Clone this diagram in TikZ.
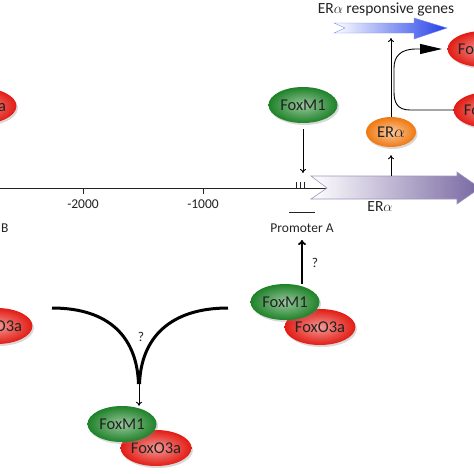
\documentclass[tikz,border=0pt]{standalone}
\usepackage{fontspec}
\setmainfont{Carlito}
\usetikzlibrary{shapes.geometric,shadows,arrows.meta}

\definecolor{foxred}{RGB}{226,28,20}
\definecolor{foxgreen}{RGB}{30,130,40}
\definecolor{erorange}{RGB}{240,120,16}
\definecolor{erpurple}{RGB}{120,104,162}
\definecolor{erblue}{RGB}{36,64,232}
\definecolor{txt}{RGB}{35,35,35}

\tikzset{
  prot/.style={ellipse, inner sep=0pt, minimum width=69pt, minimum height=36pt,
    text=txt, font=\fontsize{16.5}{18}\selectfont,
    drop shadow={shadow xshift=1.5pt, shadow yshift=-2pt, opacity=0.3}},
  foxo/.style={prot, shade, outer color=foxred, inner color=foxred!45!white},
  foxm/.style={prot, shade, outer color=foxgreen, inner color=foxgreen!45!white},
  era/.style={prot, minimum width=50pt, minimum height=30pt,
    shade, outer color=erorange, inner color=erorange!40!white},
  small/.style={text=txt, font=\fontsize{13.5}{15}\selectfont},
  big/.style={text=txt, font=\fontsize{15.5}{17}\selectfont},
  link/.style={-{To[length=4pt,width=6pt]}, line width=0.9pt}
}

\begin{document}
\begin{tikzpicture}[x=1pt,y=-1pt]
  \useasboundingbox (0,0) rectangle (474,474);

  % promoter line
  \draw[line width=1pt, txt] (0,188) -- (327,188);
  \draw[line width=0.9pt, txt] (83,188) -- (83,194);
  \draw[line width=0.9pt, txt] (203,188) -- (203,194);
  \node[small] (m2000) at (83,204) {-2000};
  \node[small] (m1000) at (203,204) {-1000};
  \node[small, anchor=east] (prob) at (12,228) {Promoter B};
  \foreach \x in {296,300,304}
    \draw[line width=0.8pt, txt] (\x,182) -- (\x,188);
  \draw[line width=1pt, txt] (289,212) -- (315,212);
  \node[small] (proa) at (302,228) {Promoter A};

  % ER alpha gene
  \shade[left color=white, right color=erpurple, draw=erpurple!70, line width=0.6pt]
    (311,176) -- (457,176) -- (457,172) -- (480,188) -- (457,204)
    -- (457,199) -- (311,199) -- (327,188) -- cycle;
  \node[big] (ergene) at (380,207) {ER$\alpha$};

  % responsive genes
  \shade[left color=white, right color=erblue, draw=erblue!60, line width=0.4pt]
    (334,23) -- (414,23) -- (414,18) -- (447,28) -- (414,39)
    -- (414,33) -- (334,33) -- (345,28) -- cycle;
  \node[big] (genes) at (386,9) {ER$\alpha$ responsive genes};

  % proteins
  \node[foxo] (foxoL1) at (-19,106) {FoxO3a};
  \node[foxo] (foxoL2) at (-3,326) {FoxO3a};
  \node[foxo] (foxoR1) at (483,49) {FoxO3a};
  \node[foxo] (foxoR2) at (489,110) {FoxO3a};
  \node[foxm] (foxm) at (303,105) {FoxM1};
  \node[era] (era) at (391,132) {ER$\alpha$};

  \node[foxo] (cfoxo) at (320,327) {FoxO3a};
  \node[foxm] (cfoxm) at (285,302) {FoxM1};
  \node[foxo] (bfoxo) at (156,448) {FoxO3a};
  \node[foxm] (bfoxm) at (122,424) {FoxM1};

  \coordinate (pa) at (303,173);
  \coordinate (ertop) at (391,176);
  \coordinate (gtop) at (391,38);
  \coordinate (qtop) at (302,240);
  \coordinate (vtip) at (139,384);

  % arrows
  \draw[link, shorten <=6pt] (foxm) -- (pa);
  \draw[link, shorten >=8pt] (ertop) -- (era);
  \draw[link] (era) -- (gtop);
  \draw[line width=0.9pt, -{Triangle[length=22pt,width=10pt]}]
    (foxoR2.west) -- (410,110) .. controls (397,110) and (394,102) .. (394,92)
    -- (394,68) .. controls (394,56) and (401,49) .. (416,49) -- (442,49);
  \draw[line width=1.8pt, -{To[length=5pt,width=8pt]}] (qtop |- cfoxm.north) -- (qtop);
  \node[small] (q1) at (315,263) {?};

  % complex formation
  \draw[line width=3pt] (52,308) .. controls (110,308) and (137,338) .. (138.5,384);
  \draw[line width=3pt] (228,308) .. controls (170,308) and (141,338) .. (139.5,384);
  \draw[link] (vtip) -- (bfoxm.north -| vtip);
  \node[small] (q2) at (141,337) {?};
\end{tikzpicture}
\end{document}
